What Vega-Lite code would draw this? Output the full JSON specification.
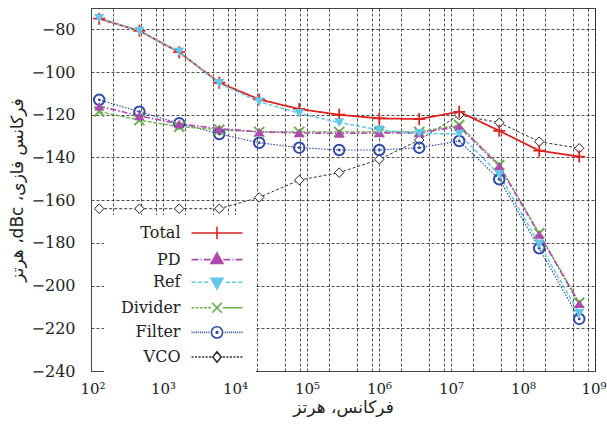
{
 "$schema": "https://vega.github.io/schema/vega-lite/v6.json",
 "width": 504,
 "height": 363,
 "autosize": {"type": "none"},
 "padding": {"left": 91, "top": 8, "right": 12, "bottom": 60},
 "background": "white",
 "config": {"view": {"stroke": "#444", "strokeWidth": 1}, "font": "DejaVu Serif"},
 "data": {"values": [
  {"series": "VCO", "f": 130, "v": -164}, {"series": "VCO", "f": 470, "v": -164}, {"series": "VCO", "f": 1680, "v": -164}, {"series": "VCO", "f": 6050, "v": -164}, {"series": "VCO", "f": 21700, "v": -158.7}, {"series": "VCO", "f": 78000, "v": -150.6}, {"series": "VCO", "f": 280000, "v": -147.1}, {"series": "VCO", "f": 1010000, "v": -140.9}, {"series": "VCO", "f": 3620000, "v": -131.8}, {"series": "VCO", "f": 13000000, "v": -120.1}, {"series": "VCO", "f": 46800000, "v": -123.7}, {"series": "VCO", "f": 168000000, "v": -132.6}, {"series": "VCO", "f": 604000000, "v": -135.7},
  {"series": "Filter", "f": 130, "v": -113}, {"series": "Filter", "f": 470, "v": -118.6}, {"series": "Filter", "f": 1680, "v": -124}, {"series": "Filter", "f": 6050, "v": -129}, {"series": "Filter", "f": 21700, "v": -133.1}, {"series": "Filter", "f": 78000, "v": -135.4}, {"series": "Filter", "f": 280000, "v": -136.5}, {"series": "Filter", "f": 1010000, "v": -136.5}, {"series": "Filter", "f": 3620000, "v": -135.4}, {"series": "Filter", "f": 13000000, "v": -132.3}, {"series": "Filter", "f": 46800000, "v": -150.2}, {"series": "Filter", "f": 168000000, "v": -182.5}, {"series": "Filter", "f": 604000000, "v": -215.6},
  {"series": "Divider", "f": 130, "v": -118.5}, {"series": "Divider", "f": 470, "v": -122.5}, {"series": "Divider", "f": 1680, "v": -125.6}, {"series": "Divider", "f": 6050, "v": -127}, {"series": "Divider", "f": 21700, "v": -128}, {"series": "Divider", "f": 78000, "v": -128}, {"series": "Divider", "f": 280000, "v": -128}, {"series": "Divider", "f": 1010000, "v": -128}, {"series": "Divider", "f": 3620000, "v": -128}, {"series": "Divider", "f": 13000000, "v": -124.8}, {"series": "Divider", "f": 46800000, "v": -143.5}, {"series": "Divider", "f": 168000000, "v": -175.5}, {"series": "Divider", "f": 604000000, "v": -208},
  {"series": "PD", "f": 130, "v": -116}, {"series": "PD", "f": 470, "v": -120.5}, {"series": "PD", "f": 1680, "v": -124.3}, {"series": "PD", "f": 6050, "v": -126.5}, {"series": "PD", "f": 21700, "v": -128}, {"series": "PD", "f": 78000, "v": -128.5}, {"series": "PD", "f": 280000, "v": -128.7}, {"series": "PD", "f": 1010000, "v": -128.5}, {"series": "PD", "f": 3620000, "v": -128.5}, {"series": "PD", "f": 13000000, "v": -125.5}, {"series": "PD", "f": 46800000, "v": -144}, {"series": "PD", "f": 168000000, "v": -176}, {"series": "PD", "f": 604000000, "v": -208.5},
  {"series": "Total", "f": 130, "v": -75}, {"series": "Total", "f": 470, "v": -80.7}, {"series": "Total", "f": 1680, "v": -90.7}, {"series": "Total", "f": 6050, "v": -105}, {"series": "Total", "f": 21700, "v": -112.8}, {"series": "Total", "f": 78000, "v": -117.3}, {"series": "Total", "f": 280000, "v": -120}, {"series": "Total", "f": 1010000, "v": -121.7}, {"series": "Total", "f": 3620000, "v": -122}, {"series": "Total", "f": 13000000, "v": -118.6}, {"series": "Total", "f": 46800000, "v": -127.5}, {"series": "Total", "f": 168000000, "v": -136.8}, {"series": "Total", "f": 604000000, "v": -139.6},
  {"series": "Ref", "f": 130, "v": -74.8}, {"series": "Ref", "f": 470, "v": -80.8}, {"series": "Ref", "f": 1680, "v": -90.5}, {"series": "Ref", "f": 6050, "v": -105.3}, {"series": "Ref", "f": 21700, "v": -113.9}, {"series": "Ref", "f": 78000, "v": -119.3}, {"series": "Ref", "f": 280000, "v": -123.7}, {"series": "Ref", "f": 1010000, "v": -127.1}, {"series": "Ref", "f": 3620000, "v": -128.7}, {"series": "Ref", "f": 13000000, "v": -129}, {"series": "Ref", "f": 46800000, "v": -148}, {"series": "Ref", "f": 168000000, "v": -180.5}, {"series": "Ref", "f": 604000000, "v": -213}
 ]},
 "encoding": {
  "x": {"field": "f", "type": "quantitative",
   "scale": {"type": "log", "domain": [100, 1000000000], "nice": false},
   "axis": {"title": "فرکانس، هرتز", "titleFont": "DejaVu Sans", "titleFontSize": 17, "titleFontWeight": "normal", "titleColor": "#222", "titlePadding": 3,
    "values": [100, 200, 500, 800, 1000, 2000, 5000, 8000, 10000, 20000, 50000, 80000, 100000, 200000, 500000, 800000, 1000000, 2000000, 5000000, 8000000, 10000000, 20000000, 50000000, 80000000, 100000000, 200000000, 500000000, 800000000, 1000000000],
    "labelExpr": "indexof([100,1000,10000,100000,1000000,10000000,100000000,1000000000], datum.value) >= 0 ? '10' + ['⁰','¹','²','³','⁴','⁵','⁶','⁷','⁸','⁹'][round(log(datum.value)/LN10)] : ''",
    "labelFont": "DejaVu Serif", "labelFontSize": 15, "labelColor": "#222", "labelPadding": 10, "labelOverlap": false, "labelFlush": true, "labelFlushOffset": 11,
    "ticks": false, "tickSize": 0, "domain": true, "domainColor": "#444", "grid": true, "gridDash": [3, 2], "gridColor": "#222", "gridOpacity": 0.8}},
  "y": {"field": "v", "type": "quantitative",
   "scale": {"domain": [-240, -70], "nice": false, "zero": false},
   "axis": {"title": "\u202bفرکانس فازی، dBc، هرتز\u202c", "titleFont": "DejaVu Sans", "titleFontSize": 17, "titleFontWeight": "normal", "titleColor": "#222", "titlePadding": 5,
    "values": [-80, -100, -120, -140, -160, -180, -200, -220, -240],
    "labelFont": "DejaVu Serif", "labelFontSize": 16, "labelColor": "#222", "labelPadding": 16,
    "ticks": false, "tickSize": 0, "domain": true, "domainColor": "#444", "grid": true, "gridDash": [3, 2], "gridColor": "#222", "gridOpacity": 0.8}}
 },
 "layer": [
  {"mark": {"type": "line"},
   "encoding": {
    "color": {"field": "series", "type": "nominal", "legend": null,
     "scale": {"domain": ["VCO", "Filter", "Divider", "Ref", "PD", "Total"], "range": ["#333333", "#2f4aa0", "#6ab04c", "#62c8e8", "#b048b0", "#dd2222"]}},
    "strokeDash": {"field": "series", "type": "nominal", "legend": null,
     "scale": {"domain": ["VCO", "Filter", "Divider", "Ref", "PD", "Total"], "range": [[3, 2], [1.5, 1.5], [4, 1.5], [4, 2], [6, 2, 1.5, 2], [1, 0]]}},
    "strokeWidth": {"field": "series", "type": "nominal", "legend": null,
     "scale": {"domain": ["VCO", "Filter", "Divider", "Ref", "PD", "Total"], "range": [1, 1.8, 2, 1.5, 1.5, 2]}}
   }},
  {"transform": [{"filter": "datum.series === 'VCO'"}],
   "mark": {"type": "point", "shape": "diamond", "size": 90, "filled": true, "fill": "white", "stroke": "#222", "strokeWidth": 1, "opacity": 1}},
  {"transform": [{"filter": "datum.series === 'Filter'"}],
   "mark": {"type": "point", "shape": "circle", "size": 110, "filled": false, "color": "#2f4aa0", "stroke": "#2f4aa0", "strokeWidth": 2, "opacity": 1}},
  {"transform": [{"filter": "datum.series === 'Filter'"}],
   "mark": {"type": "point", "shape": "circle", "size": 8, "filled": true, "color": "#2f4aa0", "opacity": 1}},
  {"transform": [{"filter": "datum.series === 'Divider'"}],
   "mark": {"type": "point", "shape": "M-1,-1L1,1M-1,1L1,-1", "size": 100, "filled": false, "color": "#6ab04c", "stroke": "#6ab04c", "strokeWidth": 2, "opacity": 1}},
  {"transform": [{"filter": "datum.series === 'PD'"}],
   "mark": {"type": "point", "shape": "triangle-up", "size": 100, "filled": true, "color": "#b048b0", "opacity": 1}},
  {"transform": [{"filter": "datum.series === 'Total'"}],
   "mark": {"type": "point", "shape": "M-1,0H1M0,-1V1", "size": 144, "filled": false, "color": "#dd2222", "stroke": "#dd2222", "strokeWidth": 1.8, "opacity": 1}},
  {"transform": [{"filter": "datum.series === 'Ref'"}],
   "mark": {"type": "point", "shape": "triangle-down", "size": 100, "filled": true, "color": "#62c8e8", "opacity": 1}},
  {"transform": [{"filter": "datum.series === 'none'"}],
   "mark": {"type": "point", "opacity": 1, "strokeWidth": 1.6},
   "encoding": {
    "stroke": {"field": "series", "type": "nominal",
     "scale": {"domain": ["Total", "PD", "Ref", "Divider", "Filter", "VCO"], "range": ["#dd2222", "#b048b0", "#62c8e8", "#6ab04c", "#2f4aa0", "#333333"]},
     "legend": {"title": null, "orient": "none", "legendX": 13, "legendY": 207, "direction": "vertical", "fillColor": "white", "padding": 10,
      "labelAlign": "right", "labelOffset": -44.5, "symbolOffset": 95, "symbolSize": 196, "symbolStrokeWidth": 1.6,
      "labelFont": "DejaVu Serif", "labelFontSize": 16, "labelColor": "#222", "rowPadding": 6.6, "labelLimit": 200}},
    "fill": {"field": "series", "type": "nominal",
     "scale": {"domain": ["Total", "PD", "Ref", "Divider", "Filter", "VCO"], "range": ["transparent", "#b048b0", "#62c8e8", "transparent", "white", "white"]},
     "legend": {"title": null, "orient": "none", "legendX": 13, "legendY": 207, "direction": "vertical", "fillColor": "white", "padding": 10,
      "labelAlign": "right", "labelOffset": -44.5, "symbolOffset": 95, "symbolSize": 196, "symbolStrokeWidth": 1.6,
      "labelFont": "DejaVu Serif", "labelFontSize": 16, "labelColor": "#222", "rowPadding": 6.6, "labelLimit": 200}},
    "shape": {"field": "series", "type": "nominal",
     "scale": {"domain": ["Total", "PD", "Ref", "Divider", "Filter", "VCO"], "range": [
      "M-3.64,0H3.64M0,-0.9V0.9",
      "M-3.64,0H-2.64M-2.34,0H-2.19M-1.89,0H-0.9M0.9,0H1.9M2.2,0H2.35M2.65,0H3.64M0,-0.95L0.85,0.55L-0.85,0.55Z",
      "M-3.64,0H-3.04M-2.74,0H-2.14M-1.84,0H-1.24M1.24,0H1.84M2.14,0H2.74M3.04,0H3.64M0,0.95L0.85,-0.55L-0.85,-0.55Z",
      "M-3.64,0H-3.24M-3.04,0H-2.64M-2.44,0H-2.04M-1.84,0H-1.44M-1.24,0H-0.84M0.84,0H3.64M-0.7,-0.7L0.7,0.7M-0.7,0.7L0.7,-0.7",
      "M-3.64,0H-3.49M-3.34,0H-3.19M-3.04,0H-2.89M-2.74,0H-2.59M-2.44,0H-2.29M-2.14,0H-1.99M-1.84,0H-1.69M-1.54,0H-1.39M-1.24,0H-1.09M1.09,0H1.24M1.39,0H1.54M1.69,0H1.84M1.99,0H2.14M2.29,0H2.44M2.59,0H2.74M2.89,0H3.04M3.19,0H3.34M3.49,0H3.64M0.8,0A0.8,0.8 0 1,1 -0.8,0A0.8,0.8 0 1,1 0.8,0ZM0.12,0A0.12,0.12 0 1,1 -0.12,0A0.12,0.12 0 1,1 0.12,0Z",
      "M-3.64,0H-3.34M-3.14,0H-2.84M-2.64,0H-2.34M-2.14,0H-1.84M-1.64,0H-1.34M-1.14,0H-0.8M0.8,0H1.14M1.34,0H1.64M1.84,0H2.14M2.34,0H2.64M2.84,0H3.14M3.34,0H3.64M0,-0.75L0.6,0L0,0.75L-0.6,0Z"
     ]},
     "legend": {"title": null, "orient": "none", "legendX": 13, "legendY": 207, "direction": "vertical", "fillColor": "white", "padding": 10,
      "labelAlign": "right", "labelOffset": -44.5, "symbolOffset": 95, "symbolSize": 196, "symbolStrokeWidth": 1.6,
      "labelFont": "DejaVu Serif", "labelFontSize": 16, "labelColor": "#222", "rowPadding": 6.6, "labelLimit": 200}}
   }}
 ]
}
